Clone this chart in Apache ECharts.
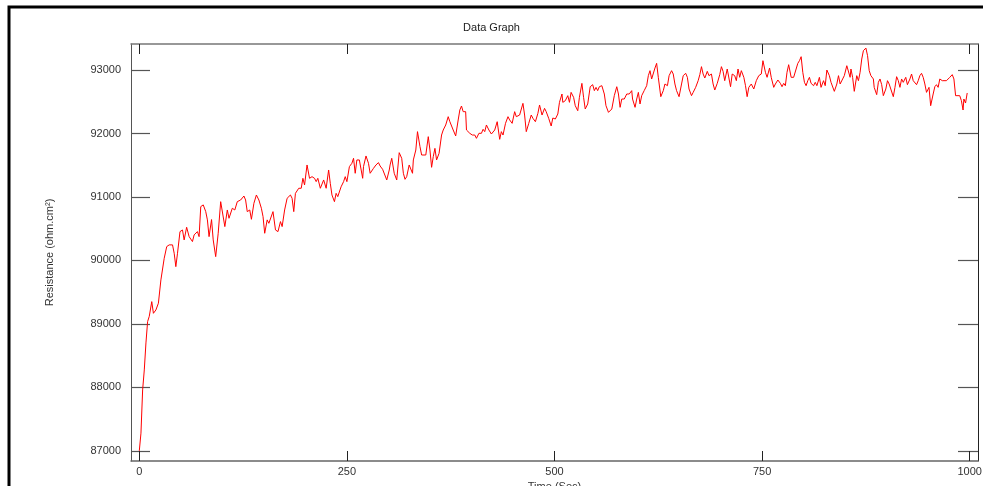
<!DOCTYPE html>
<html>
<head>
<meta charset="utf-8">
<script src="https://cdn.jsdelivr.net/npm/echarts@6/dist/echarts.min.js"></script>
<style>
html, body { margin: 0; padding: 0; background: #fff; }
#chart { width: 983px; height: 486px; }
</style>
</head>
<body>
<div id="chart"></div>
<script>
// values
var timeSec = [0, 2, 4, 6, 8, 10, 12, 15, 17, 20, 23, 26, 28, 30, 33, 36, 40, 42, 44, 46, 49, 52, 54, 57, 60, 62, 64, 66, 70, 72, 74, 77, 80, 82, 84, 87, 89, 92, 95, 98,
    100, 103, 106, 108, 112, 115, 118, 122, 126, 128, 130, 133, 135, 138, 141, 144, 147, 149, 151, 154, 156, 158, 161, 164, 167, 170, 172, 175, 178, 182, 184, 186, 188, 192, 195, 197, 199,
    202, 205, 208, 211, 213, 215, 218, 222, 225, 228, 230, 232, 235, 237, 239, 243, 246, 248, 250, 253, 256, 258, 260, 262, 265, 266, 269, 270, 273, 276, 278, 282, 285, 288, 290, 293, 295, 298,
    301, 302, 304, 307, 310, 313, 316, 318, 320, 322, 325, 327, 329, 330, 333, 335, 338, 340, 342, 345, 346, 348, 350, 352, 354, 356, 358, 361, 364, 366, 369, 372, 374, 378, 381, 384, 386, 388, 390, 393, 394, 398,
    401, 404, 406, 409, 412, 414, 416, 418, 421, 424, 428, 431, 434, 436, 438, 441, 444, 446, 449, 452, 454, 458, 460, 462, 464, 466, 469, 472, 474, 477, 480, 482, 485, 488, 490, 493, 496, 498,
    501, 504, 506, 509, 510, 513, 516, 518, 520, 523, 525, 528, 530, 533, 535, 537, 540, 543, 546, 548, 550, 552, 554, 557, 560, 562, 565, 567, 569, 572, 575, 577, 579, 581, 584, 587, 590, 593, 594, 597, 599,
    601, 603, 605, 608, 611, 613, 615, 617, 619, 621, 623, 625, 628, 631, 633, 636, 638, 641, 643, 645, 647, 650, 653, 655, 658, 660, 662, 665, 667, 670, 673, 675, 677, 679, 681, 684, 686, 689, 691, 693, 696, 699,
    701, 703, 705, 708, 710, 712, 714, 717, 719, 721, 723, 725, 728, 730, 732, 734, 737, 740, 743, 746, 749, 751, 754, 756, 759, 761, 764, 766, 769, 772, 774, 776, 778, 780, 782, 785, 788, 790, 793, 795, 797, 799,
    801, 803, 805, 807, 809, 812, 814, 816, 819, 821, 824, 826, 828, 831, 833, 835, 837, 840, 842, 844, 847, 849, 852, 854, 856, 857, 859, 861, 864, 866, 868, 870, 872, 875, 877, 879, 881, 884, 885, 888, 890, 892, 894, 896, 899,
    901, 903, 905, 908, 910, 912, 914, 916, 918, 920, 923, 925, 928, 930, 932, 934, 936, 938, 940, 942, 944, 946, 948, 951, 953, 956, 958, 960, 962, 964, 967, 969, 972, 974, 976, 979, 981, 983, 985, 988, 990, 992, 993, 995, 997];

var resistance = [87000, 87279, 87960, 88275, 88700, 89036, 89120, 89351, 89167, 89220, 89326, 89693, 89719, 90034, 90218, 90245, 90245, 90113, 89902, 90113, 90454, 90480, 90323, 90523, 90375, 90402, 90297, 90402, 90454, 90375, 90848, 90875, 90769, 90639, 90375, 90644, 90323, 90060, 90428, 90926,
    90900, 90533, 90795, 90664, 90822, 90795, 90926, 90952, 91015, 90952, 90769, 90795, 90648, 90900, 91031, 90952, 90822, 90690, 90428, 90639, 90585, 90559, 90769, 90480, 90454, 90612, 90533, 90795, 90979, 91031, 90979, 90769, 91057, 91137, 91137, 91294, 91189,
    91504, 91294, 91320, 91294, 91242, 91294, 91137, 91268, 91137, 91425, 91215, 91031, 90926, 91057, 91005, 91160, 91241, 91320, 91241, 91478, 91530, 91609, 91373, 91583, 91583, 91609, 91294, 91478, 91646, 91530, 91373, 91451, 91504, 91541, 91488, 91436, 91451, 91268,
    91425, 91504, 91609, 91373, 91268, 91698, 91609, 91373, 91278, 91320, 91504, 91504, 91373, 91583, 91740, 92029, 91793, 91661, 91661, 91661, 91646, 91950, 91740, 91467, 91635, 91766, 91583, 91688, 91976, 92055, 92134, 92265, 92186, 92055, 91961, 92213, 92370, 92433, 92344, 92344, 92055, 92003,
    91976, 91976, 91924, 92003, 92003, 92066, 92029, 92134, 92055, 91992, 92055, 92186, 91908, 92029, 91976, 92160, 92265, 92213, 92160, 92344, 92265, 92291, 92318, 92475, 92291, 92029, 92160, 92291, 92239, 92186, 92318, 92449, 92291, 92396, 92344, 92239, 92118, 92244,
    92228, 92307, 92491, 92622, 92491, 92517, 92596, 92491, 92648, 92570, 92438, 92359, 92570, 92790, 92570, 92386, 92465, 92737, 92769, 92675, 92727, 92675, 92737, 92753, 92622, 92438, 92333, 92359, 92386, 92596, 92737, 92622, 92412, 92543, 92543, 92622, 92622, 92675, 92543, 92412, 92543,
    92648, 92465, 92596, 92675, 92753, 92911, 92990, 92859, 92885, 93032, 93105, 92885, 92580, 92675, 92780, 92753, 92911, 92990, 92937, 92780, 92675, 92580, 92780, 92911, 92948, 92885, 92701, 92596, 92648, 92727, 92832, 92927, 93053, 92937, 92874, 92979, 92911, 92937, 92780, 92685, 92790, 92927,
    93053, 92979, 92832, 93016, 93016, 92737, 92937, 92911, 92832, 93016, 92885, 92990, 92885, 92753, 92580, 92727, 92780, 92701, 92832, 92911, 92937, 93147, 92964, 92885, 93032, 92885, 92727, 92780, 92843, 92790, 92737, 92790, 92753, 92964, 93084, 92885, 92885, 92859, 93105, 93147, 93210, 92964,
    92806, 92753, 92832, 92885, 92790, 92753, 92806, 92753, 92885, 92727, 92832, 92753, 93000, 92911, 92806, 92790, 92664, 92780, 92911, 92780, 92859, 92911, 93068, 93042, 92885, 93016, 92885, 92664, 92911, 92832, 92964, 93173, 93305, 93346, 93226, 92990, 92911, 92859, 92727, 92612, 92806, 92859, 92769, 92596, 92701,
    92832, 92780, 92753, 92580, 92727, 92895, 92832, 92727, 92859, 92806, 92885, 92769, 92859, 92937, 92832, 92859, 92769, 92832, 92911, 92948, 92885, 92780, 92648, 92727, 92438, 92622, 92737, 92769, 92727, 92859, 92832, 92859, 92832, 92859, 92885, 92927, 92859, 92596, 92570, 92596, 92517, 92370, 92543, 92480, 92638];

var xTicks = [0, 250, 500, 750, 1000];
var yTicks = [87000, 88000, 89000, 90000, 91000, 92000, 93000];

var points = [];
for (var i = 0; i < timeSec.length; i++) {
    points.push([timeSec[i], resistance[i]]);
}

var chart = echarts.init(document.getElementById('chart'));
var fontName = 'Liberation Sans, Arial, sans-serif';
var labelFont = { color: '#333', fontSize: 11, fontFamily: fontName };
function plain(v) { return String(v); }

chart.setOption({
    animation: false,
    backgroundColor: '#fff',
    title: {
        text: 'Data Graph',
        left: 'center',
        top: 17,
        textStyle: { color: '#222', fontSize: 11, fontWeight: 'normal', fontFamily: fontName }
    },
    graphic: [{
        type: 'rect',
        shape: { x: 9, y: 7, width: 1100, height: 700 },
        style: { fill: 'none', stroke: '#000', lineWidth: 3 },
        silent: true
    }],
    grid: { left: 131, right: 5, top: 44, bottom: 25, outerBoundsMode: 'none', containLabel: false },
    xAxis: [{
        type: 'value',
        min: -10,
        max: 1010,
        position: 'bottom',
        name: 'Time (Sec)',
        nameLocation: 'middle',
        nameGap: 17,
        nameTextStyle: labelFont,
        axisLine: { show: true, onZero: false, lineStyle: { color: '#666', width: 1.5 } },
        axisTick: { show: true, inside: true, length: 10, customValues: xTicks, lineStyle: { color: '#222' } },
        axisLabel: { show: true, margin: 5, customValues: xTicks, formatter: plain, color: '#333', fontSize: 11, fontFamily: fontName },
        splitLine: { show: false }
    }, {
        type: 'value',
        min: -10,
        max: 1010,
        position: 'top',
        axisLine: { show: true, onZero: false, lineStyle: { color: '#777', width: 1.5 } },
        axisTick: { show: true, inside: true, length: 10, customValues: xTicks, lineStyle: { color: '#222' } },
        axisLabel: { show: false },
        splitLine: { show: false }
    }],
    yAxis: [{
        type: 'value',
        min: 86840,
        max: 93410,
        position: 'left',
        name: 'Resistance (ohm.cm²)',
        nameLocation: 'middle',
        nameGap: 76,
        nameTextStyle: labelFont,
        axisLine: { show: true, onZero: false, lineStyle: { color: '#555', width: 1 } },
        axisTick: { show: true, inside: true, length: 19, customValues: yTicks, lineStyle: { color: '#555', width: 1.2 } },
        axisLabel: { show: true, margin: 10, customValues: yTicks, formatter: plain, color: '#333', fontSize: 11, fontFamily: fontName },
        splitLine: { show: false }
    }, {
        type: 'value',
        min: 86840,
        max: 93410,
        position: 'right',
        axisLine: { show: true, onZero: false, lineStyle: { color: '#222', width: 1 } },
        axisTick: { show: true, inside: true, length: 20, customValues: yTicks, lineStyle: { color: '#555', width: 1.2 } },
        axisLabel: { show: false },
        splitLine: { show: false }
    }],
    series: [{
        type: 'line',
        data: points,
        showSymbol: false,
        symbol: 'none',
        lineStyle: { color: '#ff0000', width: 1 },
        itemStyle: { color: '#ff0000' }
    }]
});
</script>
</body>
</html>
